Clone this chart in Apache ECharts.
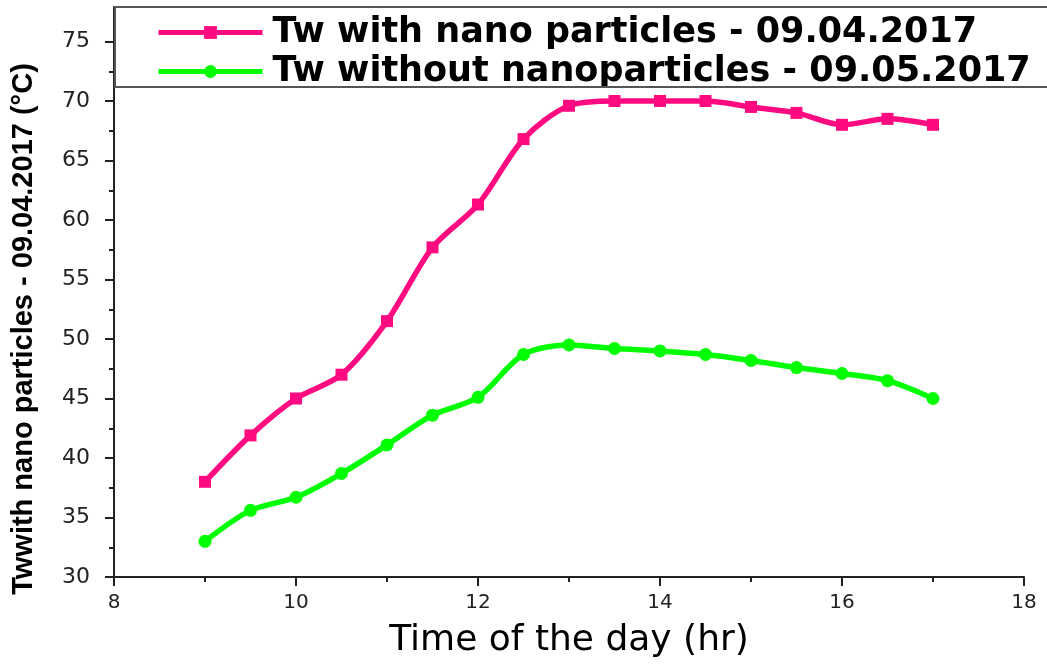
<!DOCTYPE html>
<html>
<head>
<meta charset="utf-8">
<script src="https://cdn.jsdelivr.net/npm/echarts@6/dist/echarts.min.js"></script>
<style>
html,body{margin:0;padding:0;background:#fff;}
#main{width:1047px;height:666px;}
</style>
</head>
<body>
<div id="main"></div>
<script>
// time of day (hr)
var hours = [9, 9.5, 10, 10.5, 11, 11.5, 12, 12.5, 13, 13.5, 14, 14.5, 15, 15.5, 16, 16.5, 17];
// Tw with nano particles - 09.04.2017
var withNano = [38.0, 41.9, 45.0, 47.0, 51.5, 57.7, 61.3, 66.8, 69.6, 70.0, 70.0, 70.0, 69.5, 69.0, 68.0, 68.5, 68.0];
// Tw without nanoparticles - 09.05.2017
var withoutNano = [33.0, 35.6, 36.7, 38.7, 41.1, 43.6, 45.1, 48.7, 49.5, 49.2, 49.0, 48.7, 48.2, 47.6, 47.1, 46.5, 45.0];
var yTicks = [30, 35, 40, 45, 50, 55, 60, 65, 70, 75];
var yMinorTicks = [32.5, 37.5, 42.5, 47.5, 52.5, 57.5, 62.5, 67.5, 72.5];
var seriesNames = ['Tw with nano particles - 09.04.2017', 'Tw without nanoparticles - 09.05.2017'];

var pink = '#ff0a80';
var green = '#00ff00';

function pairs(xs, ys) {
    return xs.map(function (x, i) { return [x, ys[i]]; });
}

var myChart = echarts.init(document.getElementById('main'));

var option = {
    animation: false,
    backgroundColor: '#fff',
    grid: { left: 114, right: 23, top: 7, bottom: 89 },
    // legend frame
    graphic: [{
        type: 'rect',
        shape: { x: 115, y: 7, width: 940, height: 80 },
        style: { fill: 'none', stroke: '#555', lineWidth: 2 },
        z: 5
    }],
    legend: {
        orient: 'vertical',
        left: 156,
        top: 15,
        padding: 0,
        itemGap: 4,
        itemWidth: 104,
        itemHeight: 16,
        data: [
            { name: seriesNames[0], lineStyle: { width: 5, color: pink } },
            { name: seriesNames[1], lineStyle: { width: 5, color: green } }
        ],
        textStyle: {
            fontFamily: 'DejaVu Sans',
            fontWeight: 'bold',
            fontSize: 35,
            lineHeight: 35,
            color: '#000',
            padding: [0, 0, 0, 5]
        }
    },
    xAxis: {
        type: 'value',
        min: 8,
        max: 18,
        interval: 2,
        name: 'Time of the day (hr)',
        nameLocation: 'middle',
        nameGap: 46,
        nameTextStyle: { fontFamily: 'DejaVu Sans', fontSize: 36, color: '#000' },
        axisLine: { show: true, lineStyle: { color: '#222', width: 2 } },
        axisTick: { show: true, length: 9, lineStyle: { color: '#222', width: 2 } },
        minorTick: { show: true, splitNumber: 2, length: 5, lineStyle: { color: '#222', width: 2 } },
        axisLabel: { fontFamily: 'DejaVu Sans', fontSize: 20, color: '#222', margin: 16 },
        splitLine: { show: false }
    },
    yAxis: [{
        type: 'value',
        min: 30,
        max: 77.9,
        name: 'Twwith nano particles - 09.04.2017 (°C)',
        nameLocation: 'middle',
        nameGap: 76,
        nameTextStyle: {
            fontFamily: 'Liberation Sans',
            fontWeight: 'bold',
            fontSize: 29,
            color: '#000',
            padding: [0, 74, 0, 0]
        },
        axisLine: { show: true, lineStyle: { color: '#222', width: 2 } },
        axisTick: { show: true, length: 9, customValues: yTicks, lineStyle: { color: '#222', width: 2 } },
        axisLabel: { customValues: yTicks, fontFamily: 'DejaVu Sans', fontSize: 22, color: '#222', margin: 24 },
        splitLine: { show: false }
    }, {
        // minor ticks only
        type: 'value',
        position: 'left',
        min: 30,
        max: 77.9,
        axisLine: { show: false },
        axisTick: { show: true, length: 5, customValues: yMinorTicks, lineStyle: { color: '#222', width: 2 } },
        axisLabel: { show: false },
        splitLine: { show: false }
    }],
    series: [{
        name: seriesNames[0],
        type: 'line',
        smooth: 0.3,
        symbol: 'rect',
        symbolSize: 12,
        lineStyle: { width: 5.5, color: pink },
        itemStyle: { color: pink },
        data: pairs(hours, withNano)
    }, {
        name: seriesNames[1],
        type: 'line',
        smooth: 0.3,
        symbol: 'circle',
        symbolSize: 13,
        lineStyle: { width: 5.5, color: green },
        itemStyle: { color: green },
        data: pairs(hours, withoutNano)
    }]
};

myChart.setOption(option);
</script>
</body>
</html>
